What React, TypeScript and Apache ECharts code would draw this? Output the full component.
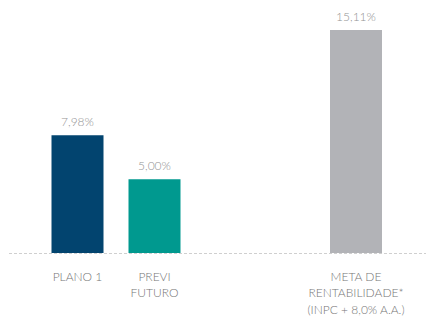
import React, { useEffect, useRef } from "react";
import * as echarts from "echarts";

const leftCategories = ["PLANO 1", "PREVI\nFUTURO"];
const leftValues = [7.98, 5.0];
const leftColors = ["#02446F", "#00998F"];

const rightCategories = ["META DE\nRENTABILIDADE*\n(INPC + 8,0% A.A.)"];
const rightValues = [15.11];
const rightColors = ["#B2B3B7"];

const MAX = 15.11;
const FONT = "Lato, 'Open Sans', sans-serif";

const fmt = (v: number) => v.toFixed(2).replace(".", ",") + "%";

export default function App() {
  const ref = useRef<HTMLDivElement>(null);
  useEffect(() => {
    document.body.style.margin = "0";
    const chart = echarts.init(ref.current!, undefined, { renderer: "svg" });
    const axisLabel = {
      color: "#767676",
      fontSize: 12,
      fontWeight: 300,
      lineHeight: 16.5,
      margin: 15,
      fontFamily: FONT,
      interval: 0,
    };
    const label = {
      show: true,
      position: "top" as const,
      distance: 8,
      color: "#939393",
      fontSize: 12,
      fontWeight: 300,
      fontFamily: FONT,
      formatter: (p: any) => fmt(p.value),
    };
    chart.setOption({
      animation: false,
      grid: [
        { left: 39, width: 154, top: 30, height: 223 },
        { left: 304, width: 104, top: 30, height: 223 },
      ],
      xAxis: [
        {
          type: "category",
          gridIndex: 0,
          data: leftCategories,
          axisLine: { show: false },
          axisTick: { show: false },
          axisLabel,
        },
        {
          type: "category",
          gridIndex: 1,
          data: rightCategories,
          axisLine: { show: false },
          axisTick: { show: false },
          axisLabel,
        },
      ],
      yAxis: [
        { type: "value", gridIndex: 0, min: 0, max: MAX, show: false },
        { type: "value", gridIndex: 1, min: 0, max: MAX, show: false },
      ],
      graphic: [
        {
          type: "line",
          z: 100,
          shape: { x1: 9, y1: 253.5, x2: 426, y2: 253.5 },
          style: { stroke: "#cfcfcf", lineWidth: 1, lineDash: [3, 2] },
        },
      ],
      series: [
        {
          type: "bar",
          xAxisIndex: 0,
          yAxisIndex: 0,
          barWidth: 52,
          data: leftValues.map((v, i) => ({
            value: v,
            itemStyle: { color: leftColors[i] },
          })),
          label,
        },
        {
          type: "bar",
          xAxisIndex: 1,
          yAxisIndex: 1,
          barWidth: 52,
          data: rightValues.map((v, i) => ({
            value: v,
            itemStyle: { color: rightColors[i] },
          })),
          label,
        },
      ],
    });
    return () => chart.dispose();
  }, []);
  return <div ref={ref} style={{ width: 427, height: 319 }} />;
}
